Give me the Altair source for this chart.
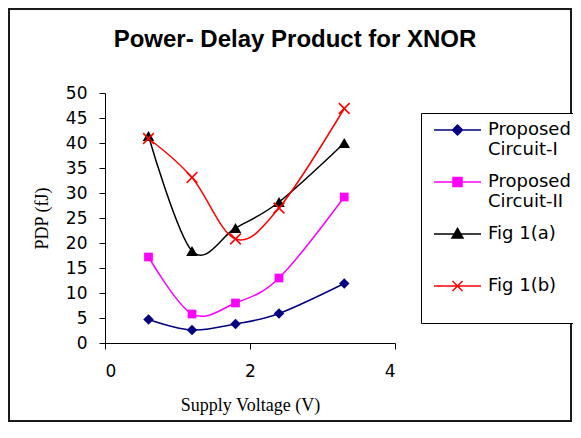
import altair as alt
import pandas as pd

# ---- data ----
voltage = [0.6, 1.2, 1.8, 2.4, 3.3]
series_names = ["Proposed Circuit-I", "Proposed Circuit-II", "Fig 1(a)", "Fig 1(b)"]
circuit_1 = [4.7, 2.6, 3.8, 5.9, 11.9]
circuit_2 = [17.2, 5.8, 8.0, 13.0, 29.2]
fig_1a = [41.4, 18.4, 23.0, 28.2, 40.0]
fig_1b = [40.9, 33.1, 20.8, 27.0, 46.9]
x_ticks = [0, 2, 4]
y_ticks = [0, 5, 10, 15, 20, 25, 30, 35, 40, 45, 50]
chart_title = "Power- Delay Product for XNOR"

values = [circuit_1, circuit_2, fig_1a, fig_1b]
rows = []
for name, vals in zip(series_names, values):
    for v, p in zip(voltage, vals):
        rows.append({"series": name, "voltage": v, "pdp": p})
df = pd.DataFrame(rows)

# ---- styles ----
colors = ["#000080", "#FF00FF", "#000000", "#FF0000"]
color_of = dict(zip(series_names, colors))
sorted_names = sorted(series_names)
X_PATH = "M-1,-1L1,1M-1,1L1,-1"
marker_styles = [
    dict(shape="diamond", filled=True, size=110, strokeWidth=1),
    dict(shape="square", filled=True, size=76, strokeWidth=1),
    dict(shape="triangle-up", filled=True, size=135, strokeWidth=1),
    dict(shape=X_PATH, filled=False, size=115, strokeWidth=1.5),
]
legend_paths = [
    "M-0.8,0H8.6M2.9,0L3.9,-1L4.9,0L3.9,1Z",
    "M-0.8,0H8.6M3,-0.9H4.8V0.9H3Z",
    "M-0.8,0H8.6M3.9,-1.1L5,0.8H2.8Z",
    "M-0.8,0H8.6M2.9,-1L4.9,1M2.9,1L4.9,-1",
]

SANS = "DejaVu Sans"
SERIF = "Liberation Serif"

x_enc = alt.X(
    "voltage:Q",
    scale=alt.Scale(domain=[0, 4], nice=False, zero=False),
    axis=alt.Axis(
        values=x_ticks, grid=False, tickSize=6, labelPadding=14,
        domainColor="black", tickColor="black", labelColor="black",
        labelFont=SANS, labelFontSize=17,
        title="Supply Voltage (V)", titleFont=SERIF, titleFontSize=18,
        titleFontWeight="normal", titleColor="black",
        titleX=145, titleY=67, titleBaseline="alphabetic", titleAlign="center",
    ),
)
y_enc = alt.Y(
    "pdp:Q",
    scale=alt.Scale(domain=[0, 50], nice=False),
    axis=alt.Axis(
        values=y_ticks, grid=False, tickSize=6, labelPadding=12,
        domainColor="black", tickColor="black", labelColor="black",
        labelFont=SANS, labelFontSize=17,
        title="PDP (fJ)", titleFont=SERIF, titleFontSize=18,
        titleFontWeight="normal", titleColor="black",
        titleAngle=270, titleX=-58, titleY=125,
        titleBaseline="alphabetic", titleAlign="center",
    ),
)
# data-driven (alphabetical) domain for the mark colours
color_enc = alt.Color(
    "series:N",
    scale=alt.Scale(range=[color_of[n] for n in sorted_names]),
    legend=None,
)

base = alt.Chart(df)

lines = base.mark_line(interpolate="cardinal", strokeWidth=1.5).encode(
    x=x_enc, y=y_enc, color=color_enc, detail="series:N"
)

point_layers = []
for name, style in zip(series_names, marker_styles):
    point_layers.append(
        base.transform_filter(alt.datum.series == name)
        .mark_point(opacity=1, **style)
        .encode(x=x_enc, y=y_enc, color=color_enc)
    )

legend_def = alt.Legend(
    orient="none", legendX=316, legendY=20,
    padding=8, strokeColor="black", fillColor="white",
    labelFont=SANS, labelFontSize=18, labelColor="black",
    labelOffset=41, rowPadding=14, symbolSize=100, symbolStrokeWidth=1.5,
    symbolOpacity=1, labelBaseline="middle",
    labelExpr="indexof(datum.label, 'Proposed') == 0 ? ['Proposed', substring(datum.label, 9)] : [datum.label, ' ']",
)
legend_layer = (
    base.mark_point(filled=True, strokeWidth=1.5, size=0, opacity=1)
    .encode(
        x=x_enc, y=y_enc,
        fill=alt.Fill("series:N", scale=alt.Scale(domain=series_names, range=colors), legend=legend_def, title=""),
        stroke=alt.Stroke("series:N", scale=alt.Scale(domain=series_names, range=colors), legend=legend_def, title=""),
        shape=alt.Shape("series:N", scale=alt.Scale(domain=series_names, range=legend_paths), legend=legend_def, title=""),
    )
)

frame = alt.Chart(pd.DataFrame({"k": [0]})).mark_rect(
    fillOpacity=0, stroke="#1a1a1a", strokeWidth=2
).encode(
    x=alt.value(-96), x2=alt.value(466), y=alt.value(-84), y2=alt.value(328)
)

title_text = alt.Chart(pd.DataFrame({"t": [chart_title]})).mark_text(
    font="Liberation Sans", fontSize=24, fontWeight="bold", color="black",
    align="center", baseline="alphabetic",
).encode(text="t:N", x=alt.value(190), y=alt.value(-46))

chart = alt.layer(frame, title_text, lines, *point_layers, legend_layer).properties(
    width=290, height=250,
    autosize=alt.AutoSizeParams(type="none"),
    padding={"left": 97, "top": 85, "right": 178, "bottom": 79},
    background="white",
).configure_view(stroke=None)

chart.save("out.html", embed_options={"renderer": "svg", "actions": False})
